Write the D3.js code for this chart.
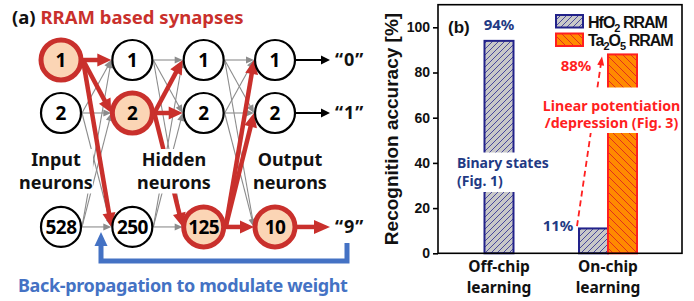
<!DOCTYPE html>
<html><head><meta charset="utf-8">
<script src="https://cdn.jsdelivr.net/npm/d3@7"></script>
<style>
body{margin:0;background:#fff;}
svg{display:block;}
</style></head><body>
<svg id="c" width="694" height="301"></svg>
<script>
// ---------------- Data ----------------
// Panel (a): network
const layerNodes = [["1","2","528"],["1","2","250"],["1","2","125"],["1","2","10"]];
const activeNode = [0, 1, 2, 2];           // highlighted (RRAM path) node per layer
const rowSlots = [0, 1, 3.15];             // rows 1, 2, ..., N (gap = ellipsis)
const outputClasses = ["“0”", "“1”", "“9”"];
const layerLabels = [["Input","neurons"],["Hidden","neurons"],["Output","neurons"]];
const titleA = ["(a) ", "RRAM based synapses"];
const backPropText = "Back-propagation to modulate weight";

// Panel (b): bar chart
const categories = ["Off-chip learning", "On-chip learning"];
const categoryLines = [["Off-chip","learning"],["On-chip","learning"]];
const seriesNames = ["HfO2 RRAM", "Ta2O5 RRAM"];
const hfo2Values = [94, 11];
const ta2o5Values = [null, 88];
const yTickValues = [0, 20, 40, 60, 80, 100];
const yDomain = [0, 110];

// ---------------- Setup ----------------
const svg = d3.select("#c");
const defs = svg.append("defs");
const RED = "#c9302c", GRAY = "#8c8c8c", BLUE = "#4472c4";
const NAVY = "#1f3a84", BRED = "#ff1f1f";
const LATIN = "'Noto Sans', 'Open Sans', sans-serif";
const ARIAL = "'Liberation Sans', Arial, sans-serif";

function arrow(g, x1, y1, x2, y2, o) {
  const dx = x2 - x1, dy = y2 - y1, L = Math.hypot(dx, dy), ux = dx / L, uy = dy / L;
  const bx = x2 - ux * o.head, by = y2 - uy * o.head;
  const ln = g.append("line")
    .attr("x1", x1).attr("y1", y1)
    .attr("x2", x2 - ux * o.head * 0.6).attr("y2", y2 - uy * o.head * 0.6)
    .attr("stroke", o.color).attr("stroke-width", o.width);
  if (o.dash) ln.attr("stroke-dasharray", o.dash);
  g.append("path")
    .attr("d", `M${x2},${y2}L${bx - uy * o.headW / 2},${by + ux * o.headW / 2}L${bx + uy * o.headW / 2},${by - ux * o.headW / 2}Z`)
    .attr("fill", o.color);
}

// ================= Panel (a) =================
const A = svg.append("g");
const R = 20;
const lx = d3.scalePoint().domain(d3.range(layerNodes.length)).range([61, 275]);
const ry = d3.scaleLinear().domain([0, 1]).range([60, 113]);
const nodeY = i => ry(rowSlots[i]);

// title
const tA = A.append("text").attr("x", 12).attr("y", 24)
  .attr("font-family", LATIN).attr("font-weight", 700).attr("font-size", 18.5);
tA.append("tspan").attr("fill", "#111").text(titleA[0]);
tA.append("tspan").attr("fill", RED).text(titleA[1]);

// edges
const edges = [];
for (let l = 0; l < layerNodes.length - 1; l++)
  for (let i = 0; i < 3; i++)
    for (let j = 0; j < 3; j++)
      edges.push({ l, i, j, red: i === activeNode[l] });

const gE = A.append("g");
edges.filter(e => !e.red).forEach(e => {
  arrow(gE, lx(e.l) + R + 1, nodeY(e.i), lx(e.l + 1) - R - 1, nodeY(e.j),
    { color: GRAY, width: 1.1, head: 8, headW: 7 });
});
edges.filter(e => e.red).forEach(e => {
  arrow(gE, lx(e.l) + R + 2, nodeY(e.i), lx(e.l + 1) - R - 1, nodeY(e.j),
    { color: RED, width: 4.5, head: 14, headW: 13 });
});

// layer labels with white backing
const labelX = [lx(0) - 5, (lx(1) + lx(2)) / 2 + 6, lx(3) + 15];
layerLabels.forEach((lines, k) => {
  const g = A.append("g");
  const t = g.append("text").attr("text-anchor", "middle")
    .attr("font-family", LATIN).attr("font-weight", 700).attr("font-size", 18).attr("fill", "#111");
  lines.forEach((s, m) => t.append("tspan").attr("x", labelX[k]).attr("y", 166 + m * 22.5).text(s));
  const bb = t.node().getBBox();
  g.insert("rect", "text").attr("x", bb.x).attr("y", bb.y + 2).attr("width", bb.width).attr("height", bb.height - 2).attr("fill", "#fff");
});

// output arrows
const outX = lx(3) + 55;
outputClasses.forEach((s, i) => {
  const isRed = i === activeNode[3];
  arrow(A, lx(3) + R + 1, nodeY(i), outX, nodeY(i),
    isRed ? { color: RED, width: 4.5, head: 16, headW: 14 } : { color: "#000", width: 2, head: 9, headW: 9 });
  A.append("text").attr("x", outX + 5).attr("y", nodeY(i)).attr("dy", "0.36em")
    .attr("font-family", LATIN).attr("font-weight", 700).attr("font-size", 18)
    .attr("letter-spacing", 1).attr("fill", "#111").text(s);
});

// nodes
layerNodes.forEach((nodes, l) => {
  nodes.forEach((lab, i) => {
    const on = i === activeNode[l];
    A.append("circle").attr("cx", lx(l)).attr("cy", nodeY(i)).attr("r", R)
      .attr("fill", on ? "#fbd5b5" : "#fff")
      .attr("stroke", on ? RED : "#000").attr("stroke-width", on ? 5 : 2.2);
    A.append("text").attr("x", lx(l)).attr("y", nodeY(i)).attr("dy", "0.36em")
      .attr("text-anchor", "middle").attr("font-family", LATIN).attr("font-weight", 700)
      .attr("font-size", 19).attr("letter-spacing", lab.length > 1 ? -0.6 : 0).attr("fill", "#000").text(lab);
  });
});

// back-propagation arrow
const bpRight = lx(3) + 72, bpLeft = lx(0) + 40, bpY = 261;
A.append("path")
  .attr("d", d3.line()([[bpRight, 243], [bpRight, bpY], [bpLeft, bpY], [bpLeft, 244]]))
  .attr("fill", "none").attr("stroke", BLUE).attr("stroke-width", 5);
A.append("path").attr("d", `M${bpLeft},232L${bpLeft - 6.5},246L${bpLeft + 6.5},246Z`).attr("fill", BLUE);
A.append("text").attr("x", 18).attr("y", 292)
  .attr("font-family", LATIN).attr("font-weight", 700).attr("font-size", 18).attr("letter-spacing", -0.35)
  .attr("fill", BLUE).text(backPropText);

// ================= Panel (b) =================
const B = svg.append("g");
const bx0 = 438, bx1 = 682, by0 = 4.7, by1 = 253.3;
const y = d3.scaleLinear().domain(yDomain).range([by1, by0]);
const xCat = d3.scalePoint().domain(categories).range([bx0 + 61, bx1 - 74]);
const barW = 29;
const xSer = d3.scaleBand().domain(seriesNames).range([0, barW * seriesNames.length]);

// patterns
const pHf = defs.append("pattern").attr("id", "hatchHf").attr("patternUnits", "userSpaceOnUse")
  .attr("width", 6).attr("height", 6);
pHf.append("rect").attr("width", 6).attr("height", 6).attr("fill", "#c8c8c8");
pHf.append("path").attr("d", "M-1,1L1,-1M0,6L6,0M5,7L7,5").attr("stroke", "#3a3a96").attr("stroke-width", 0.9);
const pTa = defs.append("pattern").attr("id", "hatchTa").attr("patternUnits", "userSpaceOnUse")
  .attr("width", 8).attr("height", 8);
pTa.append("rect").attr("width", 8).attr("height", 8).attr("fill", "#ff8a00");
pTa.append("path").attr("d", "M-1,7L1,9M0,0L8,8M7,-1L9,1").attr("stroke", "#e0301c").attr("stroke-width", 1);

const seriesStyle = {
  "HfO2 RRAM": { fill: "url(#hatchHf)", stroke: "#22228a" },
  "Ta2O5 RRAM": { fill: "url(#hatchTa)", stroke: BRED }
};
const seriesVals = { "HfO2 RRAM": hfo2Values, "Ta2O5 RRAM": ta2o5Values };

// bars
const barData = [];
categories.forEach((c, ci) => {
  const present = seriesNames.filter(s => seriesVals[s][ci] != null);
  const gw = present.length * barW;
  present.forEach((s, k) => barData.push({ c, s, v: seriesVals[s][ci], x: xCat(c) - gw / 2 + k * xSer.bandwidth() }));
});
B.selectAll("rect.bar").data(barData).join("rect").attr("class", "bar")
  .attr("x", d => d.x).attr("y", d => y(d.v)).attr("width", xSer.bandwidth()).attr("height", d => y(0) - y(d.v))
  .attr("fill", d => seriesStyle[d.s].fill).attr("stroke", d => seriesStyle[d.s].stroke).attr("stroke-width", 2);

// dashed annotation arrow (from 11% to 88%)
const onC = xCat(categories[1]);
arrow(B, onC - 31, y(12), onC - 6, y(88) + 2, { color: BRED, width: 1.8, head: 9, headW: 7, dash: "6,4" });

// annotation boxes
function noteBlock(lines, x, y0, dyLine, anchor, color, size, padTop, padBot) {
  const g = B.append("g");
  const t = g.append("text").attr("text-anchor", anchor).attr("font-family", LATIN)
    .attr("font-weight", 700).attr("font-size", size).attr("fill", color);
  lines.forEach((s, m) => t.append("tspan").attr("x", x).attr("y", y0 + m * dyLine).text(s));
  const bb = t.node().getBBox();
  g.insert("rect", "text").attr("x", bb.x - 2).attr("y", bb.y - padTop)
    .attr("width", Math.min(bb.width + 4, bx1 - 1 - (bb.x - 2))).attr("height", bb.height + padTop + padBot).attr("fill", "#fff");
}
const offC = xCat(categories[0]);
noteBlock(["Binary states", "(Fig. 1)"], offC - 42, 167.5, 18.5, "start", NAVY, 14, 0, 2);
noteBlock(["Linear potentiation", "/depression (Fig. 3)"], onC + 3.5, 110.5, 17.5, "middle", BRED, 14.2, 8, 1);

// value labels
const valFont = sel => sel.attr("font-family", LATIN).attr("font-weight", 700).attr("font-size", 15);
B.append("text").call(valFont).attr("x", offC).attr("y", y(hfo2Values[0]) - 11).attr("text-anchor", "middle").attr("fill", NAVY).text(hfo2Values[0] + "%");
B.append("text").call(valFont).attr("x", onC - 32).attr("y", y(ta2o5Values[1]) + 17).attr("text-anchor", "middle").attr("fill", BRED).text(ta2o5Values[1] + "%");
B.append("text").call(valFont).attr("x", onC - 50).attr("y", y(hfo2Values[1]) + 3).attr("text-anchor", "middle").attr("fill", NAVY).text(hfo2Values[1] + "%");

// frame
B.append("rect").attr("x", bx0).attr("y", by0).attr("width", bx1 - bx0).attr("height", by1 - by0)
  .attr("fill", "none").attr("stroke", "#000").attr("stroke-width", 1.6);

// y axis
const ax = B.append("g").attr("transform", `translate(${bx0},0)`)
  .call(d3.axisLeft(y).tickValues(yTickValues).tickSize(5).tickPadding(3));
ax.select(".domain").remove();
ax.selectAll(".tick line").attr("stroke", "#000").attr("stroke-width", 1.6);
ax.selectAll(".tick text").attr("font-family", ARIAL).attr("font-weight", 700).attr("font-size", 14).attr("fill", "#111");

// y title
B.append("text").attr("transform", `translate(398,${(by0 + by1) / 2}) rotate(-90)`)
  .attr("text-anchor", "middle").attr("font-family", ARIAL).attr("font-weight", 700)
  .attr("font-size", 19).attr("fill", "#111").text("Recognition accuracy [%]");

// (b)
B.append("text").attr("x", bx0 + 10).attr("y", 33).attr("font-family", ARIAL).attr("font-weight", 700)
  .attr("font-size", 17).attr("fill", "#111").text("(b)");

// x labels
categories.forEach((c, ci) => {
  const t = B.append("text").attr("text-anchor", "middle").attr("font-family", LATIN)
    .attr("font-weight", 700).attr("font-size", 15.5).attr("fill", "#111");
  categoryLines[ci].forEach((s, m) => t.append("tspan").attr("x", xCat(c)).attr("y", 272.3 + m * 20.2).text(s));
});

// legend
const legX = 556, legW = 27, legH = 12.5, legY = [15, 33.5];
seriesNames.forEach((s, k) => {
  B.append("rect").attr("x", legX).attr("y", legY[k]).attr("width", legW).attr("height", legH)
    .attr("fill", seriesStyle[s].fill).attr("stroke", seriesStyle[s].stroke).attr("stroke-width", 2);
  const t = B.append("text").attr("x", legX + legW + 5).attr("y", legY[k] + 12.5)
    .attr("font-family", ARIAL).attr("font-weight", 700).attr("font-size", 16)
    .attr("letter-spacing", -1).attr("fill", "#111");
  // split chemical formula into normal text and subscript digits
  const parts = s.match(/[A-Za-z ]+|\d/g);
  let sub = false;
  parts.forEach(p => {
    const isDigit = /\d/.test(p);
    const ts = t.append("tspan").text(p);
    if (isDigit && !sub) { ts.attr("font-size", 11).attr("dy", 4); sub = true; }
    else if (!isDigit && sub) { ts.attr("dy", -4); sub = false; }
  });
});
</script>
</body></html>
